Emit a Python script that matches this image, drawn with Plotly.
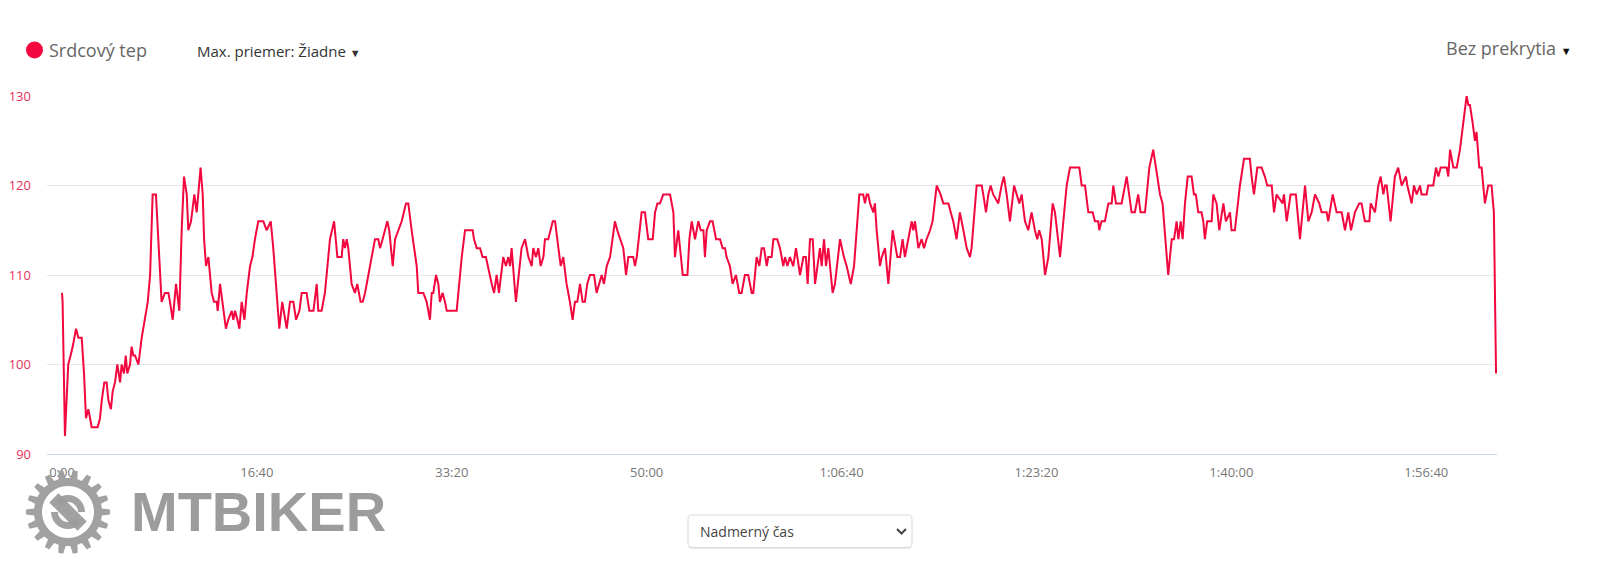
import math
import plotly.graph_objects as go

# ---------------- data (elapsed seconds, heart rate bpm) ----------------
time_s = [
    0, 3, 15, 32, 44, 55, 72, 84, 101, 113, 123, 135, 144, 152, 183, 195, 204, 217, 229, 238,
    251, 260, 272, 284, 298, 306, 318, 327, 335, 349, 357, 366, 375, 392, 409, 426, 440, 452, 465, 482,
    503, 511, 528, 546, 554, 568, 585, 602, 614, 626, 640, 648, 662, 679, 691, 705, 711, 722, 729, 739,
    751, 768, 780, 794, 799, 811, 828, 841, 853, 871, 879, 888, 900, 910, 922, 936, 948, 965, 977, 990,
    1007, 1033, 1050, 1071, 1084, 1101, 1115, 1130, 1153, 1170, 1187, 1201, 1218, 1230, 1255, 1269, 1290, 1307, 1315, 1332,
    1349, 1375, 1396, 1413, 1435, 1443, 1452, 1461, 1469, 1486, 1503, 1515, 1532, 1543, 1555, 1572, 1589, 1606, 1623, 1632,
    1645, 1657, 1669, 1679, 1697, 1709, 1726, 1743, 1765, 1777, 1794, 1820, 1828, 1854, 1871, 1888, 1897, 1905, 1919, 1931,
    1939, 1953, 1965, 1974, 2025, 2051, 2068, 2107, 2114, 2128, 2145, 2158, 2175, 2193, 2205, 2217, 2230, 2242, 2256, 2264,
    2278, 2290, 2299, 2307, 2329, 2358, 2376, 2393, 2410, 2418, 2432, 2444, 2456, 2470, 2478, 2495, 2518, 2530, 2547, 2559,
    2572, 2589, 2606, 2620, 2632, 2644, 2658, 2671, 2683, 2695, 2709, 2730, 2743, 2757, 2769, 2781, 2795, 2812, 2825, 2837,
    2849, 2863, 2880, 2894, 2906, 2931, 2940, 2949, 2966, 2974, 2991, 3008, 3031, 3043, 3055, 3068, 3085, 3120, 3137, 3145,
    3162, 3185, 3209, 3219, 3231, 3248, 3265, 3277, 3291, 3299, 3308, 3325, 3338, 3356, 3376, 3390, 3402, 3410, 3427,
    3441, 3458, 3475, 3487, 3496, 3504, 3521, 3539, 3547, 3564, 3578, 3590, 3602, 3616, 3624, 3641, 3650, 3670, 3684, 3701,
    3710, 3722, 3735, 3752, 3766, 3787, 3804, 3817, 3826, 3838, 3852, 3864, 3889, 3898, 3910, 3920, 3932, 3954, 3966, 3992,
    4012, 4026, 4047, 4064, 4091, 4111, 4120, 4129, 4137, 4146, 4163, 4171, 4180, 4197, 4206, 4223, 4240, 4262, 4286, 4300,
    4313, 4325, 4342, 4360, 4368, 4377, 4394, 4411, 4423, 4436, 4454, 4467, 4488, 4508, 4522, 4548, 4560, 4573, 4590, 4607,
    4625, 4642, 4659, 4667, 4693, 4719, 4727, 4741, 4753, 4765, 4778, 4804, 4821, 4833, 4847, 4864, 4885, 4898, 4912, 4924,
    4941, 4958, 4975, 4992, 5004, 5014, 5027, 5044, 5061, 5083, 5095, 5121, 5155, 5172, 5220, 5232, 5249, 5266, 5288, 5300,
    5317, 5322, 5334, 5351, 5369, 5386, 5394, 5408, 5437, 5463, 5488, 5505, 5522, 5534, 5557, 5579,
    5599, 5613, 5625, 5634, 5647, 5659, 5676, 5694, 5706, 5719, 5728, 5740, 5750, 5762, 5776, 5796, 5808, 5818, 5830, 5847,
    5856, 5864, 5876, 5899, 5907, 5924, 5938, 5959, 5972, 5993, 6001, 6018, 6044, 6065, 6095, 6104, 6116, 6133, 6155, 6172,
    6184, 6207, 6219, 6232, 6263, 6270, 6284, 6304, 6331, 6352, 6378, 6395, 6412, 6429, 6451, 6463, 6489, 6497, 6520, 6540,
    6566, 6583, 6600, 6614, 6634, 6656, 6668, 6685, 6708, 6715, 6737, 6754, 6766, 6780, 6788, 6797, 6817, 6839, 6856, 6874,
    6896, 6903, 6925, 6937, 6951, 6968, 6976, 7002, 7010, 7036, 7050, 7062, 7074, 7105, 7113, 7122, 7139, 7156, 7173, 7190,
    7207, 7216, 7224, 7238, 7250, 7258, 7272, 7284, 7301, 7318, 7335, 7347, 7358,
]
bpm = [
    108, 107, 92, 100, 101, 102, 104, 103, 103, 99, 94, 95, 94, 93, 93, 94, 96, 98, 98, 96,
    95, 97, 98, 100, 98, 100, 99, 101, 99, 100, 102, 101, 101, 100, 103, 105, 107, 110, 119, 119,
    111, 107, 108, 108, 107, 105, 109, 106, 115, 121, 119, 115, 116, 119, 117, 120, 122, 119, 114, 111,
    112, 108, 107, 107, 106, 109, 106, 104, 105, 106, 105, 106, 105, 104, 107, 105, 108, 111, 112, 114,
    116, 116, 115, 116, 113, 108, 104, 107, 104, 107, 107, 105, 106, 108, 108, 106, 106, 109, 106, 106,
    108, 114, 116, 112, 112, 114, 113, 114, 113, 109, 108, 109, 107, 107, 108, 110, 112, 114, 114, 113,
    114, 115, 116, 115, 111, 114, 115, 116, 118, 118, 115, 111, 108, 108, 107, 105, 108, 108, 110, 109,
    107, 108, 107, 106, 106, 112, 115, 115, 114, 113, 113, 112, 112, 110, 109, 108, 110, 108, 111, 112,
    111, 112, 111, 113, 107, 113, 114, 112, 111, 113, 112, 113, 111, 112, 114, 114, 116, 116, 113, 111,
    112, 109, 107, 105, 107, 107, 109, 107, 107, 109, 110, 110, 108, 109, 110, 109, 111, 112, 114, 116,
    115, 114, 113, 110, 112, 112, 111, 112, 115, 117, 117, 114, 114, 117, 118, 118, 119, 119, 117, 112,
    115, 110, 110, 114, 116, 114, 116, 115, 115, 112, 115, 116, 116, 114, 114, 113, 113, 112, 111,
    109, 110, 108, 108, 109, 110, 110, 108, 108, 112, 111, 113, 113, 111, 112, 112, 114, 114, 113, 111,
    112, 111, 112, 111, 113, 110, 112, 112, 109, 114, 114, 109, 113, 111, 114, 111, 113, 108, 109, 114,
    112, 111, 109, 111, 119, 119, 118, 119, 119, 118, 117, 118, 115, 111, 112, 113, 109, 115, 112, 112,
    114, 112, 114, 116, 115, 116, 113, 114, 113, 114, 115, 116, 120, 119, 118, 118, 117, 116, 114, 117,
    115, 113, 112, 113, 120, 120, 119, 117, 119, 120, 119, 118, 120, 121, 119, 116, 120, 119, 118, 119,
    116, 115, 117, 115, 114, 115, 114, 110, 112, 118, 117, 112, 120, 122, 122, 120, 120, 117, 117, 116,
    116, 115, 116, 116, 118, 118, 120, 118, 118, 121, 117, 117, 119, 117, 117, 122,
    124, 122, 120, 119, 118, 115, 110, 114, 114, 116, 114, 116, 114, 118, 121, 121, 119, 119, 117, 117,
    116, 114, 116, 116, 119, 118, 115, 118, 116, 117, 115, 115, 120, 123, 123, 121, 119, 122, 122, 121,
    120, 120, 117, 119, 118, 119, 116, 119, 119, 114, 120, 116, 117, 119, 118, 117, 117, 116, 119, 117,
    117, 115, 117, 115, 117, 118, 118, 116, 116, 118, 117, 120, 121, 119, 120, 120, 116, 121, 122, 120,
    121, 120, 118, 120, 119, 120, 119, 119, 120, 120, 122, 121, 122, 122, 121, 124, 122, 122, 124, 127,
    130, 129, 129, 127, 125, 126, 122, 122, 118, 120, 120, 117, 99,
]

x_tick_values = [0, 1000, 2000, 3000, 4000, 5000, 6000, 7000]
x_tick_labels = ["0:00", "16:40", "33:20", "50:00", "1:06:40", "1:23:20", "1:40:00", "1:56:40"]
y_tick_values = [90, 100, 110, 120, 130]

series_name = "Srdcový tep"
LINE_COLOR = "#f2073e"

# ---------------- layout geometry (page has an 8px body margin) ----------------
OFF = 8
W, H = 1600 - OFF, 574 - OFF
# plot area in screen pixels
SL, SR, ST, SB = 47, 1497, 96, 454


def px_x(x):
    return (x - SL) / (SR - SL)


def px_y(y):
    return (SB - y) / (SB - ST)


def poly(points):
    return "M " + " L ".join(f"{a:.2f},{b:.2f}" for a, b in points) + " Z"


# gear logo path (pixel offsets around its centre)
teeth = 18
step = 2 * math.pi / teeth
r_tip, r_root, r_hole = 42, 34, 26
gear_pts = []
for i in range(teeth):
    a = i * step
    for frac, r in ((-0.5, r_root), (-0.3, r_root), (-0.17, r_tip), (0.17, r_tip), (0.3, r_root)):
        ang = a + frac * step
        gear_pts.append((r * math.cos(ang), r * math.sin(ang)))
hole_pts = [(r_hole * math.cos(-2 * math.pi * k / 64), r_hole * math.sin(-2 * math.pi * k / 64)) for k in range(64)]
gear_path = poly(gear_pts) + " " + poly(hole_pts)

u = (math.cos(-math.pi / 4), math.sin(-math.pi / 4))
n = (-u[1], u[0])
L, hw = 20, 6.5
band = [(L * u[0] + hw * n[0], L * u[1] + hw * n[1]), (L * u[0] - hw * n[0], L * u[1] - hw * n[1]),
        (-L * u[0] - hw * n[0], -L * u[1] - hw * n[1]), (-L * u[0] + hw * n[0], -L * u[1] + hw * n[1])]
hook1 = []
for k in range(0, 13):
    ang = math.radians(135 - 15 * k * 0.75)
    hook1.append((17 * math.cos(ang), 17 * math.sin(ang)))
for k in range(12, -1, -1):
    ang = math.radians(135 - 15 * k * 0.75)
    hook1.append((10 * math.cos(ang), 10 * math.sin(ang)))
hook2 = [(-x, -y) for x, y in hook1]
inner_path = poly(band)


def rounded_rect(w, h, r):
    pts = []
    for cx, cy, a0 in ((w - r, r, -90), (w - r, h - r, 0), (r, h - r, 90), (r, r, 180)):
        for k in range(7):
            ang = math.radians(a0 + 15 * k)
            pts.append((cx + r * math.cos(ang), cy + r * math.sin(ang)))
    return poly(pts)


fig = go.Figure()
fig.add_trace(go.Scatter(
    x=time_s, y=bpm, mode="lines", name=series_name,
    line=dict(color=LINE_COLOR, width=2), showlegend=False,
    hovertemplate="%{y} bpm<extra></extra>",
))

GEAR = "#9c9c9c"
GX, GY = 68, 512
shapes = [
    dict(type="circle", xref="paper", yref="paper", xsizemode="pixel", ysizemode="pixel",
         xanchor=px_x(34.5), yanchor=px_y(50), x0=-8.5, x1=8.5, y0=-8.5, y1=8.5,
         fillcolor=LINE_COLOR, line=dict(width=0)),
    dict(type="path", xref="paper", yref="paper", xsizemode="pixel", ysizemode="pixel",
         xanchor=px_x(688), yanchor=px_y(549), path=rounded_rect(224, 33, 4),
         fillcolor="#ebebeb", line=dict(width=0)),
    dict(type="path", xref="paper", yref="paper", xsizemode="pixel", ysizemode="pixel",
         xanchor=px_x(688), yanchor=px_y(547.5), path=rounded_rect(224, 32.5, 4),
         fillcolor="white", line=dict(color="#d9d9d9", width=1)),
    dict(type="path", xref="paper", yref="paper", xsizemode="pixel", ysizemode="pixel",
         xanchor=px_x(901.5), yanchor=px_y(531), path="M -4.5,2 L 0,-2.5 L 4.5,2",
         line=dict(color="#444444", width=2)),
    dict(type="path", xref="paper", yref="paper", xsizemode="pixel", ysizemode="pixel",
         xanchor=px_x(GX), yanchor=px_y(GY), path=gear_path, fillrule="evenodd",
         fillcolor=GEAR, line=dict(width=0), layer="above", opacity=0.95),
    dict(type="path", xref="paper", yref="paper", xsizemode="pixel", ysizemode="pixel",
         xanchor=px_x(GX), yanchor=px_y(GY), path=inner_path,
         fillcolor=GEAR, line=dict(width=0), layer="above", opacity=0.95),
    dict(type="path", xref="paper", yref="paper", xsizemode="pixel", ysizemode="pixel",
         xanchor=px_x(GX), yanchor=px_y(GY), path=poly(hook1),
         fillcolor=GEAR, line=dict(width=0), layer="above", opacity=0.95),
    dict(type="path", xref="paper", yref="paper", xsizemode="pixel", ysizemode="pixel",
         xanchor=px_x(GX), yanchor=px_y(GY), path=poly(hook2),
         fillcolor=GEAR, line=dict(width=0), layer="above", opacity=0.95),
]

annotations = [
    dict(text=series_name, x=px_x(47), y=px_y(50), xref="paper", yref="paper",
         xanchor="left", yanchor="middle", showarrow=False,
         font=dict(family="Open Sans", size=18, color="#666666")),
    dict(text="Max. priemer: Žiadne <span style='font-size:11px'>▼</span>", x=px_x(195), y=px_y(51),
         xref="paper", yref="paper", xanchor="left", yanchor="middle", showarrow=False,
         font=dict(family="Open Sans", size=15, color="#333333")),
    dict(text="Bez prekrytia <span style='font-size:11px;color:#111'>▼</span>", x=px_x(1574), y=px_y(48),
         xref="paper", yref="paper", xanchor="right", yanchor="middle", showarrow=False,
         font=dict(family="Open Sans", size=18, color="#666666")),
    dict(text="Nadmerný čas", x=px_x(698), y=px_y(531), xref="paper", yref="paper",
         xanchor="left", yanchor="middle", showarrow=False,
         font=dict(family="Open Sans", size=14, color="#444444")),
    dict(text="<b>MTBIKER</b>", x=px_x(129), y=px_y(511), xref="paper", yref="paper",
         xanchor="left", yanchor="middle", showarrow=False,
         font=dict(family="Liberation Sans", size=56, color=GEAR)),
]

fig.update_layout(
    width=W, height=H,
    margin=dict(l=SL - OFF, r=W - (SR - OFF), t=ST - OFF, b=H - (SB - OFF), pad=0),
    paper_bgcolor="white", plot_bgcolor="white",
    showlegend=False,
    shapes=shapes, annotations=annotations,
    font=dict(family="Open Sans", color="#666666"),
    xaxis=dict(
        range=[-77, 7363], tickmode="array", tickvals=x_tick_values, ticktext=x_tick_labels,
        showgrid=False, zeroline=False, showline=True, linecolor="#ccd6eb", linewidth=1,
        ticks="", ticklabelstandoff=6, tickfont=dict(family="Open Sans", size=13, color="#777777"),
        fixedrange=True, automargin=False,
    ),
    yaxis=dict(
        range=[90, 130], tickmode="array", tickvals=y_tick_values,
        showgrid=True, gridcolor="#e6e6e6", gridwidth=1, zeroline=False, showline=False,
        ticks="", ticklabelstandoff=15, tickfont=dict(family="Open Sans", size=13, color="#e8305a"),
        fixedrange=True, automargin=False,
    ),
)

fig.write_html("out.html")
